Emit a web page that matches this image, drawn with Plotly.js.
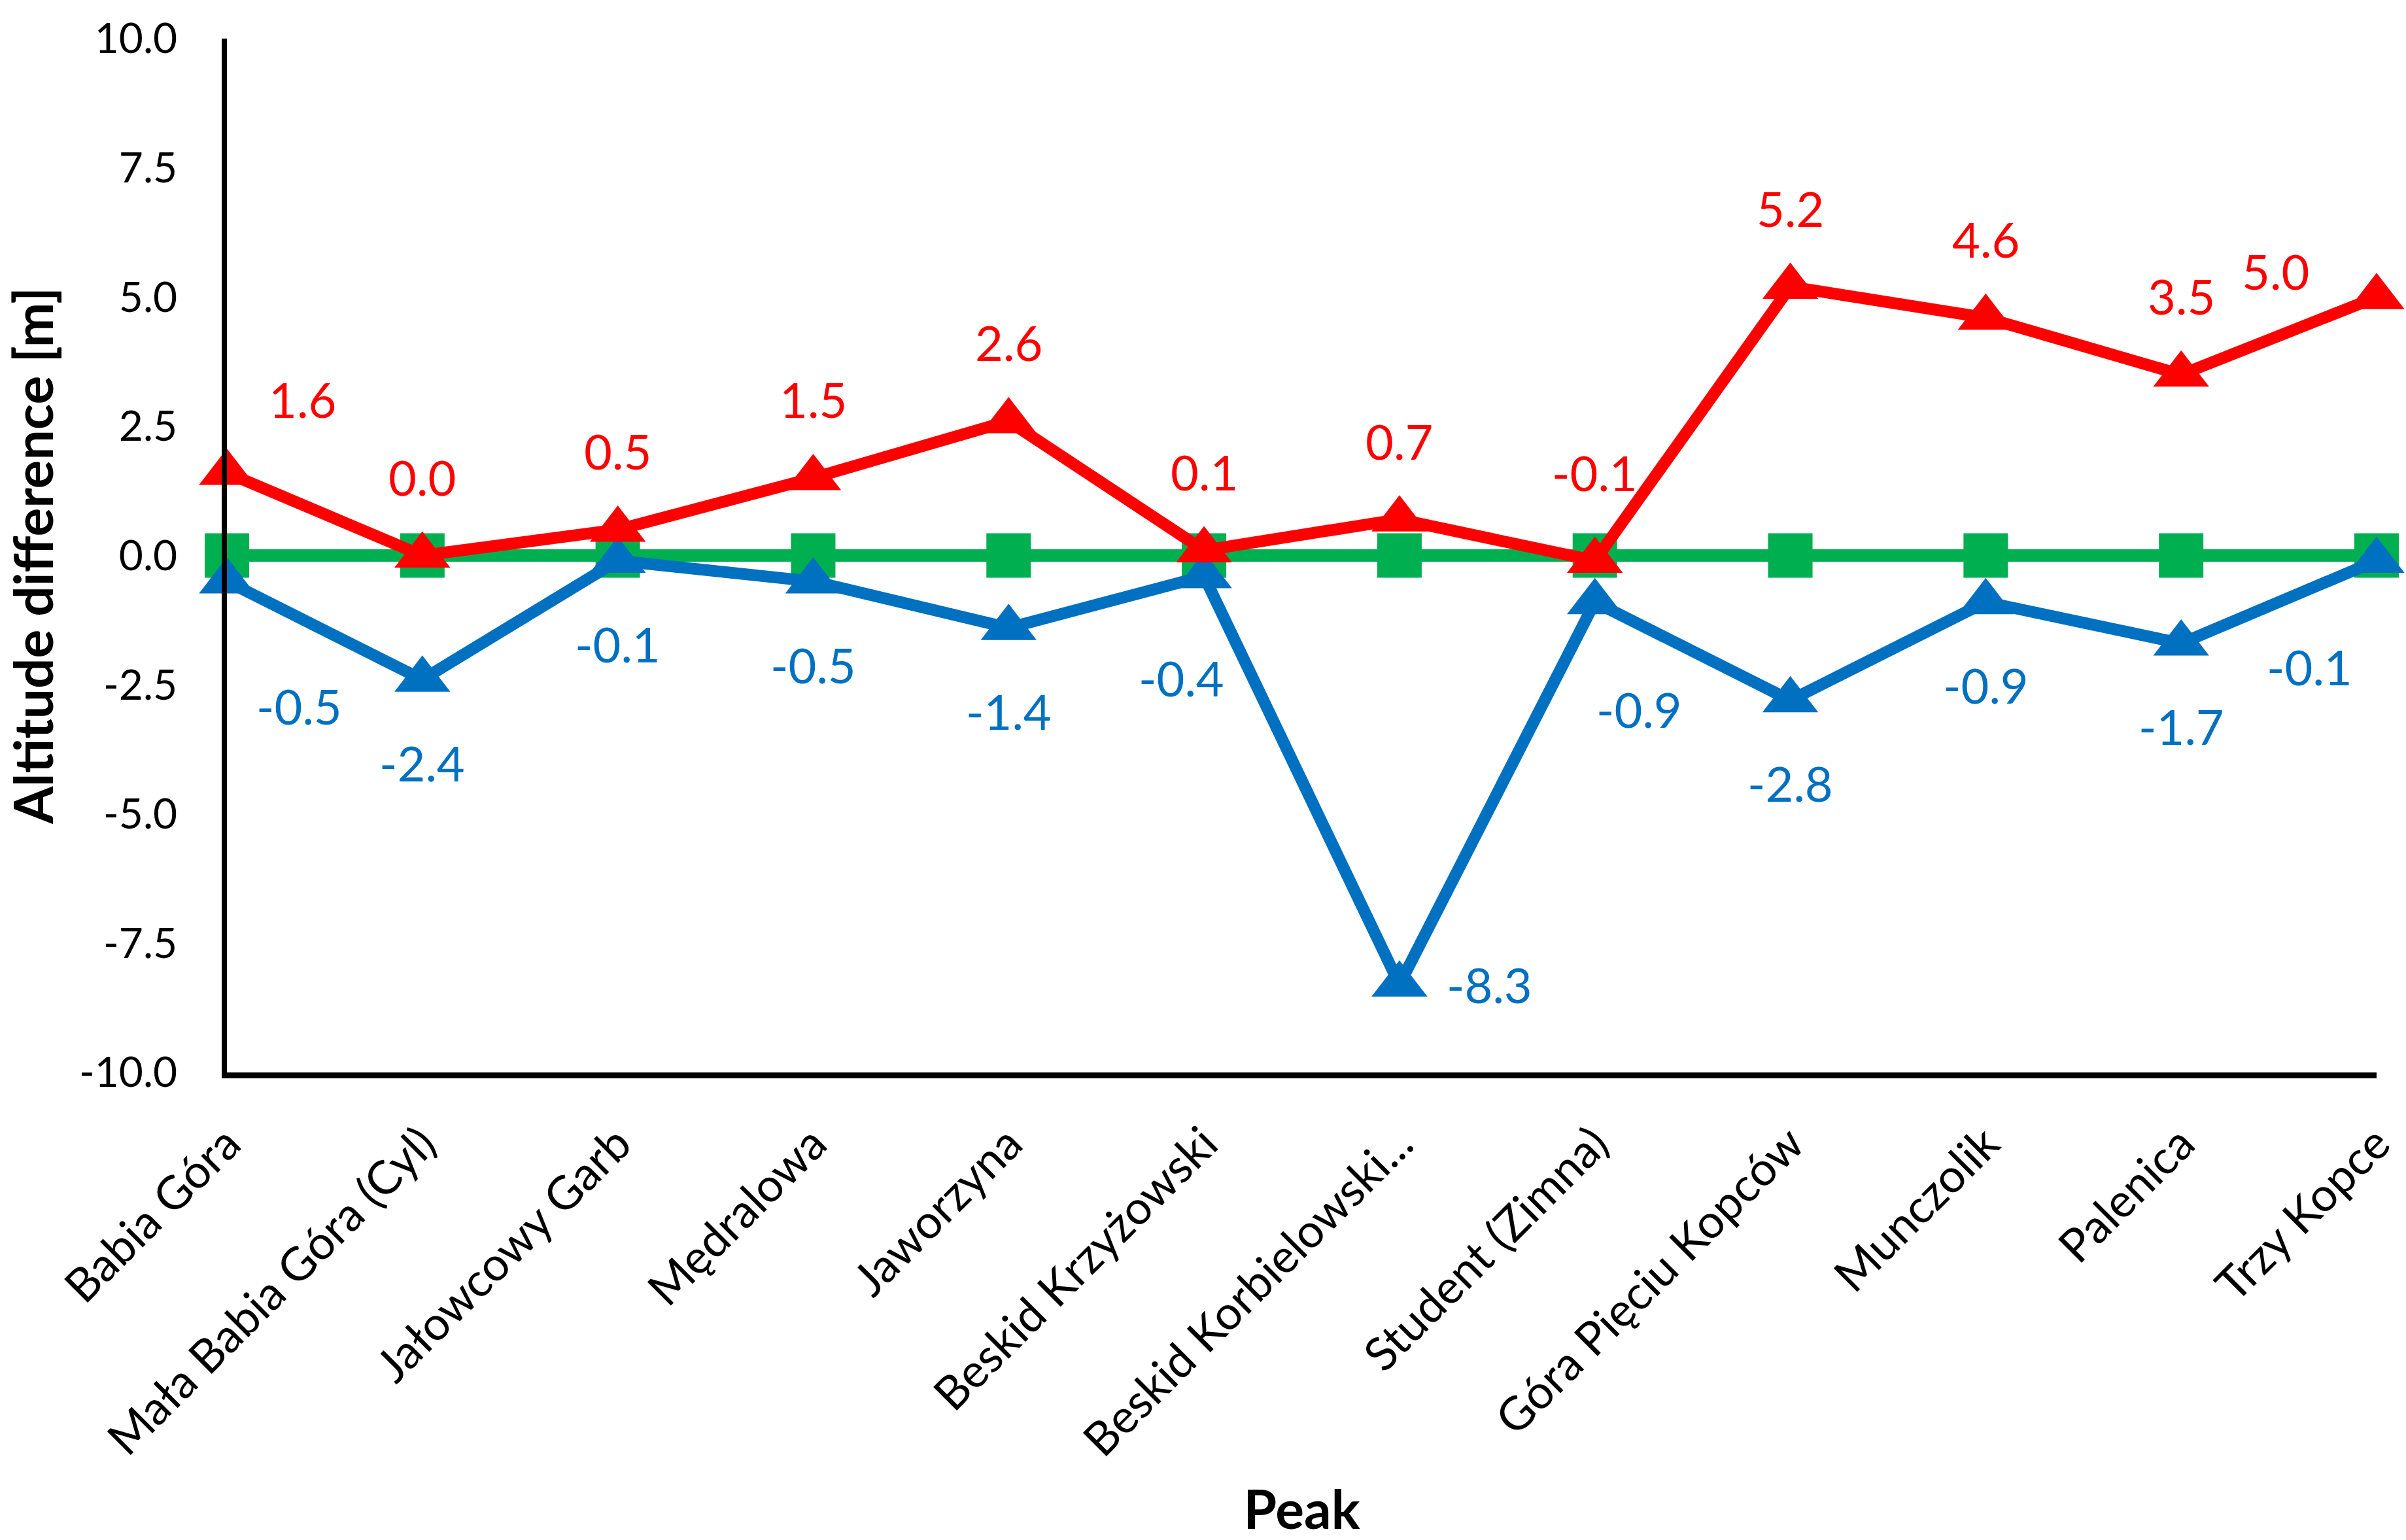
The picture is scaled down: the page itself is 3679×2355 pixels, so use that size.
<!DOCTYPE html>
<html>
<head>
<meta charset="utf-8">
<script src="https://cdn.plot.ly/plotly-3.0.1.min.js"></script>
<style>html,body{margin:0;padding:0;background:#fff;}#chart{width:3679px;height:2355px;}</style>
</head>
<body>
<div id="chart"></div>
<script>
const peaks = ["Babia Góra", "Mała Babia Góra (Cyl)", "Jałowcowy Garb", "Mędralowa", "Jaworzyna", "Beskid Krzyżowski", "Beskid Korbielowski...", "Student (Zimna)", "Góra Pięciu Kopców", "Munczolik", "Palenica", "Trzy Kopce"];
const redValues = [1.6, 0.0, 0.5, 1.5, 2.6, 0.1, 0.7, -0.1, 5.2, 4.6, 3.5, 5.0];
const blueValues = [-0.5, -2.4, -0.1, -0.5, -1.4, -0.4, -8.3, -0.9, -2.8, -0.9, -1.7, -0.1];
const greenValues = [0, 0, 0, 0, 0, 0, 0, 0, 0, 0, 0, 0];
const yTicks = [-10, -7.5, -5, -2.5, 0, 2.5, 5, 7.5, 10];

// label offsets (px) [xshift, yshift]
const redOffsets = [[115,113],[0,120],[0,120],[0,120],[0,120],[0,120],[0,120],[0,135],[0,120],[0,120],[0,120],[-155,40]];
const blueOffsets = [[110,-190],[0,-127],[0,-127],[0,-127],[0,-127],[-35,-155],[138,0],[68,-164],[0,-127],[0,-127],[0,-127],[-103,-162]];

const RED = "#FF0000", BLUE = "#0070C0", GREEN = "#00B050";
const FONT = "Lato, 'Open Sans', sans-serif";

const traces = [
  {x: peaks, y: greenValues, type: "scatter", mode: "lines+markers", cliponaxis: false,
   line: {color: GREEN, width: 19}, marker: {symbol: "square", size: 68, color: GREEN}, hoverinfo: "skip"},
  {x: peaks, y: blueValues, type: "scatter", mode: "lines+markers", cliponaxis: false,
   line: {color: BLUE, width: 18}, marker: {symbol: "triangle-up", size: 74, color: BLUE}, hoverinfo: "skip"},
  {x: peaks, y: redValues, type: "scatter", mode: "lines+markers", cliponaxis: false,
   line: {color: RED, width: 18}, marker: {symbol: "triangle-up", size: 74, color: RED}, hoverinfo: "skip"}
];

const annotations = [];
peaks.forEach((p, i) => {
  annotations.push({x: p, y: redValues[i], xref: "x", yref: "y", text: redValues[i].toFixed(1),
    showarrow: false, xshift: redOffsets[i][0], yshift: redOffsets[i][1],
    font: {family: FONT, size: 74, color: RED}});
  annotations.push({x: p, y: blueValues[i], xref: "x", yref: "y", text: blueValues[i].toFixed(1),
    showarrow: false, xshift: blueOffsets[i][0], yshift: blueOffsets[i][1],
    font: {family: FONT, size: 74, color: BLUE}});
});

const layout = {
  width: 3679, height: 2355,
  margin: {l: 347, r: 45, t: 59, b: 715},
  paper_bgcolor: "#ffffff", plot_bgcolor: "#ffffff",
  showlegend: false,
  font: {family: FONT, color: "#000000"},
  xaxis: {
    type: "category", range: [0, 11], showgrid: false, zeroline: false,
    showline: true, linecolor: "#000000", linewidth: 9, ticks: "",
    tickangle: -45, tickfont: {family: FONT, size: 71, color: "#000000"},
    ticklabelstandoff: 30,
    title: {text: "<b>Peak</b>", font: {family: FONT, size: 82, color: "#000000"}, standoff: 60},
    automargin: false
  },
  yaxis: {
    range: [-10, 10], tickvals: yTicks, ticktext: yTicks.map(v => v.toFixed(1)),
    showgrid: false, zeroline: false, showline: true, linecolor: "#000000", linewidth: 8,
    ticks: "", tickfont: {family: FONT, size: 64, color: "#000000"}, ticklabelstandoff: 55,
    title: {text: "<b>Altitude difference [m]</b>", font: {family: FONT, size: 82, color: "#000000"}, standoff: 40},
    automargin: false
  },
  annotations: annotations
};

Plotly.newPlot("chart", traces, layout, {staticPlot: true, displayModeBar: false});
</script>
</body>
</html>
